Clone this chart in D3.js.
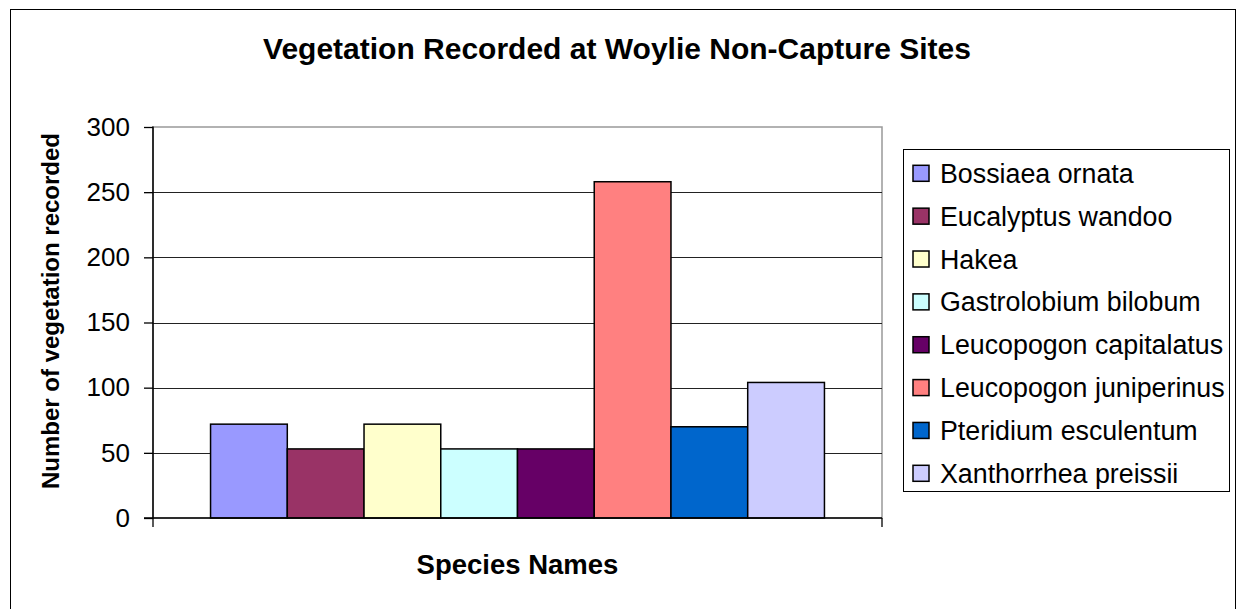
<!DOCTYPE html>
<html>
<head>
<meta charset="utf-8">
<script src="https://cdn.jsdelivr.net/npm/d3@7"></script>
<style>
  body { margin: 0; background: #fff; }
  text { font-family: "Liberation Sans", Arial, sans-serif; fill: #000; }
</style>
</head>
<body>
<div id="chart"></div>
<script>
var species = ["Bossiaea ornata", "Eucalyptus wandoo", "Hakea", "Gastrolobium bilobum",
  "Leucopogon capitalatus", "Leucopogon juniperinus", "Pteridium esculentum", "Xanthorrhea preissii"];
var counts = [72, 53, 72, 53, 53, 258, 70, 104];
var colors = ["#9999ff", "#993366", "#ffffcc", "#ccffff", "#660066", "#ff8080", "#0066cc", "#ccccff"];
var yTicks = [0, 50, 100, 150, 200, 250, 300];

var W = 1238, H = 609;
var plot = {left: 153, right: 882, top: 127, bottom: 518};

var svg = d3.select("#chart").append("svg")
  .attr("width", W)
  .attr("height", H);

// outer chart border
svg.append("rect")
  .attr("x", 10.5).attr("y", 9.5)
  .attr("width", 1225).attr("height", 620)
  .attr("fill", "none").attr("stroke", "#000").attr("stroke-width", 1);

var y = d3.scaleLinear().domain([0, 300]).range([plot.bottom, plot.top]);
var x = d3.scaleBand().domain(species)
  .range([plot.left, plot.right])
  .paddingInner(0).paddingOuter(0.75);

// plot border (top/right grey)
svg.append("rect")
  .attr("x", plot.left).attr("y", plot.top)
  .attr("width", plot.right - plot.left).attr("height", plot.bottom - plot.top)
  .attr("fill", "none").attr("stroke", "#999").attr("stroke-width", 1.5);

// gridlines
svg.append("g").selectAll("line")
  .data(yTicks.filter(d => d > 0 && d < 300))
  .enter().append("line")
  .attr("x1", plot.left).attr("x2", plot.right)
  .attr("y1", d => Math.round(y(d)) + 0.5).attr("y2", d => Math.round(y(d)) + 0.5)
  .attr("stroke", "#222").attr("stroke-width", 1);

// bars
svg.append("g").selectAll("rect")
  .data(counts)
  .enter().append("rect")
  .attr("x", (d, i) => x(species[i]))
  .attr("y", d => y(d))
  .attr("width", x.bandwidth())
  .attr("height", d => y(0) - y(d))
  .attr("fill", (d, i) => colors[i])
  .attr("stroke", "#000")
  .attr("stroke-width", 1.5);

// y axis
var yAxis = d3.axisLeft(y).tickValues(yTicks).tickSize(9).tickPadding(14);
var gy = svg.append("g")
  .attr("transform", "translate(" + plot.left + ",0)")
  .call(yAxis);
gy.select(".domain").attr("stroke", "#000").attr("stroke-width", 1.5)
  .attr("d", "M0," + (plot.top - 0.5) + "V" + (plot.bottom + 0.5));
gy.selectAll(".tick line").attr("stroke", "#000").attr("stroke-width", 1.3);
gy.selectAll(".tick text")
  .attr("font-size", 26)
  .attr("font-family", "Liberation Sans, Arial, sans-serif")
  .attr("fill", "#000");

// x axis (category boundary ticks only)
var gx = svg.append("g");
gx.append("line")
  .attr("x1", plot.left - 9).attr("x2", plot.right)
  .attr("y1", plot.bottom).attr("y2", plot.bottom)
  .attr("stroke", "#000").attr("stroke-width", 1.5);
gx.selectAll("line.tk")
  .data([plot.left, plot.right])
  .enter().append("line")
  .attr("class", "tk")
  .attr("x1", d => d).attr("x2", d => d)
  .attr("y1", plot.bottom).attr("y2", plot.bottom + 9)
  .attr("stroke", "#000").attr("stroke-width", 1.3);

// titles
svg.append("text")
  .attr("x", 617).attr("y", 59)
  .attr("text-anchor", "middle")
  .attr("font-size", 30).attr("font-weight", "bold")
  .text("Vegetation Recorded at Woylie Non-Capture Sites");

svg.append("text")
  .attr("x", (plot.left + plot.right) / 2).attr("y", 574)
  .attr("text-anchor", "middle")
  .attr("font-size", 27.5).attr("font-weight", "bold")
  .text("Species Names");

svg.append("text")
  .attr("transform", "translate(59,311) rotate(-90)")
  .attr("text-anchor", "middle")
  .attr("font-size", 24).attr("font-weight", "bold")
  .text("Number of vegetation recorded");

// legend
var legend = svg.append("g");
legend.append("rect")
  .attr("x", 903.5).attr("y", 149.5)
  .attr("width", 326).attr("height", 342)
  .attr("fill", "#fff").attr("stroke", "#000").attr("stroke-width", 1);

var ly = d3.scalePoint().domain(species).range([173.3, 473.3]);
var items = legend.selectAll("g.item")
  .data(species)
  .enter().append("g")
  .attr("class", "item")
  .attr("transform", d => "translate(0," + ly(d) + ")");
items.append("rect")
  .attr("x", 913).attr("y", -8)
  .attr("width", 16).attr("height", 16)
  .attr("fill", (d, i) => colors[i])
  .attr("stroke", "#000").attr("stroke-width", 1.5);
items.append("text")
  .attr("x", 940).attr("y", 9.5)
  .attr("font-size", 26.8)
  .text(d => d);
</script>
</body>
</html>
